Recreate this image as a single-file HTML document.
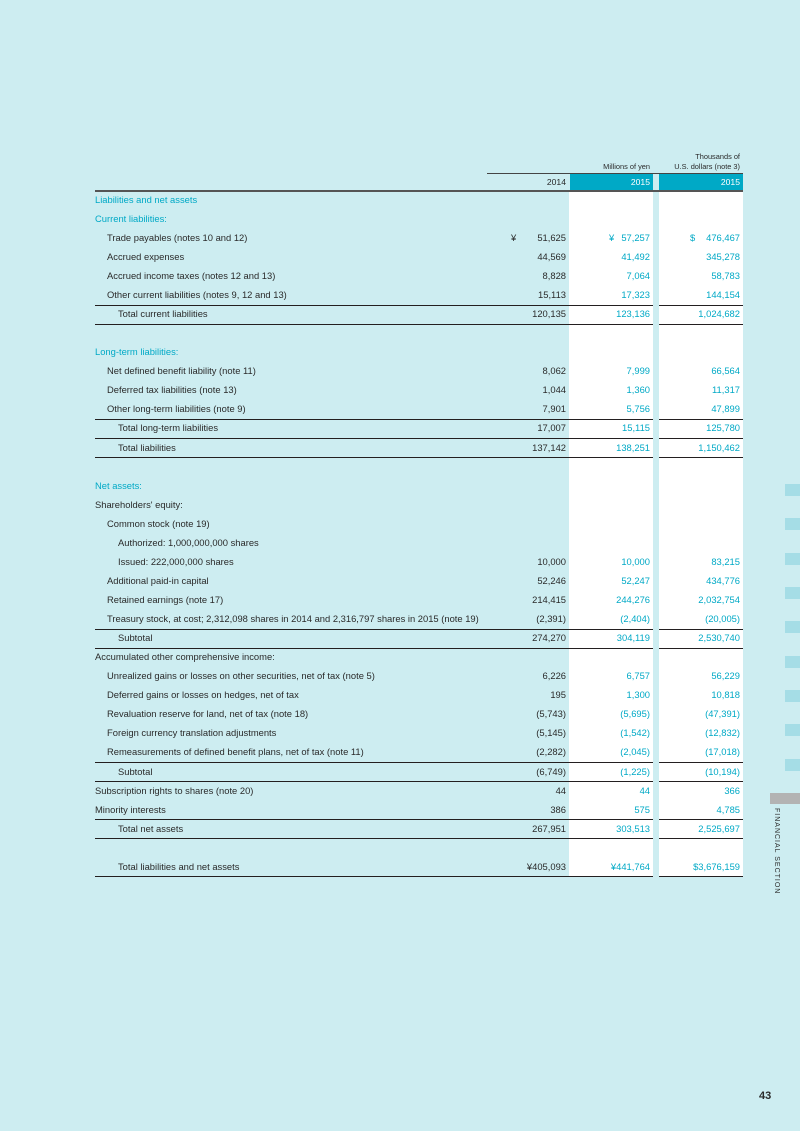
<!DOCTYPE html>
<html><head><meta charset="utf-8"><style>
body{margin:0;background:#cdedf1;}
#p{position:relative;width:800px;height:1131px;background:#cdedf1;font-family:"Liberation Sans",sans-serif;color:#2a2a2a;overflow:hidden}
.a{position:absolute}
.r{position:absolute;left:0;width:800px;height:12px;line-height:12px;font-size:9.4px}
.r span{position:absolute;white-space:nowrap}
.l0{left:95px}.l1{left:107px}.l2{left:118px}
.v1{right:234px}.v2{right:150px;color:#00a9c6}.v3{right:60px;color:#00a9c6}
.c{color:#00a9c6}
.ln{position:absolute;height:1px;background:#231f20}
</style></head><body><div id="p">
<div class="a" style="left:569px;top:191px;width:84px;height:686px;background:#fff"></div>
<div class="a" style="left:659px;top:191px;width:84px;height:686px;background:#fff"></div>
<div class="a" style="left:570px;top:174px;width:83px;height:16px;background:#00a9c6"></div>
<div class="a" style="left:659px;top:174px;width:84px;height:16px;background:#00a9c6"></div>
<div class="a" style="left:487px;top:173px;width:256px;height:1px;background:#444"></div>
<div class="a" style="left:95px;top:190px;width:648px;height:1.5px;background:#555"></div>
<div class="a" style="right:60px;top:152px;font-size:7.4px;text-align:right;line-height:10px">Thousands of<br>U.S. dollars (note 3)</div>
<div class="a" style="right:150px;top:162px;font-size:7.4px;line-height:10px">Millions of yen</div>
<div class="r" style="top:176px;font-size:8.6px"><span style="right:234px">2014</span><span style="right:150px;color:#fff">2015</span><span style="right:60px;color:#fff">2015</span></div>

<div class="r" style="top:194px"><span class="l0 c">Liabilities and net assets</span></div>
<div class="r" style="top:213px"><span class="l0 c">Current liabilities:</span></div>
<div class="r" style="top:232px"><span class="l1">Trade payables (notes 10 and 12)</span><span style="left:511px">¥</span><span class="v1">51,625</span><span style="left:609px;color:#00a9c6">¥</span><span class="v2">57,257</span><span style="left:690px;color:#00a9c6">$</span><span class="v3">476,467</span></div>
<div class="r" style="top:251px"><span class="l1">Accrued expenses</span><span class="v1">44,569</span><span class="v2">41,492</span><span class="v3">345,278</span></div>
<div class="r" style="top:270px"><span class="l1">Accrued income taxes (notes 12 and 13)</span><span class="v1">8,828</span><span class="v2">7,064</span><span class="v3">58,783</span></div>
<div class="r" style="top:289px"><span class="l1">Other current liabilities (notes 9, 12 and 13)</span><span class="v1">15,113</span><span class="v2">17,323</span><span class="v3">144,154</span></div>
<div class="r" style="top:308px"><span class="l2">Total current liabilities</span><span class="v1">120,135</span><span class="v2">123,136</span><span class="v3">1,024,682</span></div>
<div class="r" style="top:346px"><span class="l0 c">Long-term liabilities:</span></div>
<div class="r" style="top:365px"><span class="l1">Net defined benefit liability (note 11)</span><span class="v1">8,062</span><span class="v2">7,999</span><span class="v3">66,564</span></div>
<div class="r" style="top:384px"><span class="l1">Deferred tax liabilities (note 13)</span><span class="v1">1,044</span><span class="v2">1,360</span><span class="v3">11,317</span></div>
<div class="r" style="top:403px"><span class="l1">Other long-term liabilities (note 9)</span><span class="v1">7,901</span><span class="v2">5,756</span><span class="v3">47,899</span></div>
<div class="r" style="top:422px"><span class="l2">Total long-term liabilities</span><span class="v1">17,007</span><span class="v2">15,115</span><span class="v3">125,780</span></div>
<div class="r" style="top:442px"><span class="l2">Total liabilities</span><span class="v1">137,142</span><span class="v2">138,251</span><span class="v3">1,150,462</span></div>
<div class="r" style="top:480px"><span class="l0 c">Net assets:</span></div>
<div class="r" style="top:499px"><span class="l0">Shareholders' equity:</span></div>
<div class="r" style="top:518px"><span class="l1">Common stock (note 19)</span></div>
<div class="r" style="top:537px"><span class="l2">Authorized: 1,000,000,000 shares</span></div>
<div class="r" style="top:556px"><span class="l2">Issued: 222,000,000 shares</span><span class="v1">10,000</span><span class="v2">10,000</span><span class="v3">83,215</span></div>
<div class="r" style="top:575px"><span class="l1">Additional paid-in capital</span><span class="v1">52,246</span><span class="v2">52,247</span><span class="v3">434,776</span></div>
<div class="r" style="top:594px"><span class="l1">Retained earnings (note 17)</span><span class="v1">214,415</span><span class="v2">244,276</span><span class="v3">2,032,754</span></div>
<div class="r" style="top:613px"><span class="l1">Treasury stock, at cost; 2,312,098 shares in 2014 and 2,316,797 shares in 2015 (note 19)</span><span class="v1">(2,391)</span><span class="v2">(2,404)</span><span class="v3">(20,005)</span></div>
<div class="r" style="top:632px"><span class="l2">Subtotal</span><span class="v1">274,270</span><span class="v2">304,119</span><span class="v3">2,530,740</span></div>
<div class="r" style="top:651px"><span class="l0">Accumulated other comprehensive income:</span></div>
<div class="r" style="top:670px"><span class="l1">Unrealized gains or losses on other securities, net of tax (note 5)</span><span class="v1">6,226</span><span class="v2">6,757</span><span class="v3">56,229</span></div>
<div class="r" style="top:689px"><span class="l1">Deferred gains or losses on hedges, net of tax</span><span class="v1">195</span><span class="v2">1,300</span><span class="v3">10,818</span></div>
<div class="r" style="top:708px"><span class="l1">Revaluation reserve for land, net of tax (note 18)</span><span class="v1">(5,743)</span><span class="v2">(5,695)</span><span class="v3">(47,391)</span></div>
<div class="r" style="top:727px"><span class="l1">Foreign currency translation adjustments</span><span class="v1">(5,145)</span><span class="v2">(1,542)</span><span class="v3">(12,832)</span></div>
<div class="r" style="top:746px"><span class="l1">Remeasurements of defined benefit plans, net of tax (note 11)</span><span class="v1">(2,282)</span><span class="v2">(2,045)</span><span class="v3">(17,018)</span></div>
<div class="r" style="top:766px"><span class="l2">Subtotal</span><span class="v1">(6,749)</span><span class="v2">(1,225)</span><span class="v3">(10,194)</span></div>
<div class="r" style="top:785px"><span class="l0">Subscription rights to shares (note 20)</span><span class="v1">44</span><span class="v2">44</span><span class="v3">366</span></div>
<div class="r" style="top:804px"><span class="l0">Minority interests</span><span class="v1">386</span><span class="v2">575</span><span class="v3">4,785</span></div>
<div class="r" style="top:823px"><span class="l2">Total net assets</span><span class="v1">267,951</span><span class="v2">303,513</span><span class="v3">2,525,697</span></div>
<div class="r" style="top:861px"><span class="l2">Total liabilities and net assets</span><span class="v1">¥405,093</span><span class="v2">¥441,764</span><span class="v3">$3,676,159</span></div>

<div class="ln" style="left:95px;width:558px;top:305px"></div><div class="ln" style="left:659px;width:84px;top:305px"></div>
<div class="ln" style="left:95px;width:558px;top:324px"></div><div class="ln" style="left:659px;width:84px;top:324px"></div>
<div class="ln" style="left:95px;width:558px;top:419px"></div><div class="ln" style="left:659px;width:84px;top:419px"></div>
<div class="ln" style="left:95px;width:558px;top:438px"></div><div class="ln" style="left:659px;width:84px;top:438px"></div>
<div class="ln" style="left:95px;width:558px;top:457px"></div><div class="ln" style="left:659px;width:84px;top:457px"></div>
<div class="ln" style="left:95px;width:558px;top:629px"></div><div class="ln" style="left:659px;width:84px;top:629px"></div>
<div class="ln" style="left:95px;width:558px;top:648px"></div><div class="ln" style="left:659px;width:84px;top:648px"></div>
<div class="ln" style="left:95px;width:558px;top:762px"></div><div class="ln" style="left:659px;width:84px;top:762px"></div>
<div class="ln" style="left:95px;width:558px;top:781px"></div><div class="ln" style="left:659px;width:84px;top:781px"></div>
<div class="ln" style="left:95px;width:558px;top:819px"></div><div class="ln" style="left:659px;width:84px;top:819px"></div>
<div class="ln" style="left:95px;width:558px;top:838px"></div><div class="ln" style="left:659px;width:84px;top:838px"></div>
<div class="ln" style="left:95px;width:558px;top:876px"></div><div class="ln" style="left:659px;width:84px;top:876px"></div>

<div class="a" style="left:785px;top:484px;width:15px;height:12px;background:#a5dde6"></div>
<div class="a" style="left:785px;top:518px;width:15px;height:12px;background:#a5dde6"></div>
<div class="a" style="left:785px;top:553px;width:15px;height:12px;background:#a5dde6"></div>
<div class="a" style="left:785px;top:587px;width:15px;height:12px;background:#a5dde6"></div>
<div class="a" style="left:785px;top:621px;width:15px;height:12px;background:#a5dde6"></div>
<div class="a" style="left:785px;top:656px;width:15px;height:12px;background:#a5dde6"></div>
<div class="a" style="left:785px;top:690px;width:15px;height:12px;background:#a5dde6"></div>
<div class="a" style="left:785px;top:724px;width:15px;height:12px;background:#a5dde6"></div>
<div class="a" style="left:785px;top:759px;width:15px;height:12px;background:#a5dde6"></div>
<div class="a" style="left:770px;top:793px;width:30px;height:11px;background:#b3b3b3"></div>
<div class="a" style="left:770px;top:808px;width:12px;height:86px;"><div style="position:absolute;left:0;top:0;transform-origin:0 0;transform:translate(12px,0) rotate(90deg);font-size:7px;letter-spacing:1px;white-space:nowrap;line-height:12px">FINANCIAL SECTION</div></div>
<div class="a" style="left:759px;top:1090px;font-size:11px;font-weight:bold;">43</div>
</div></body></html>
